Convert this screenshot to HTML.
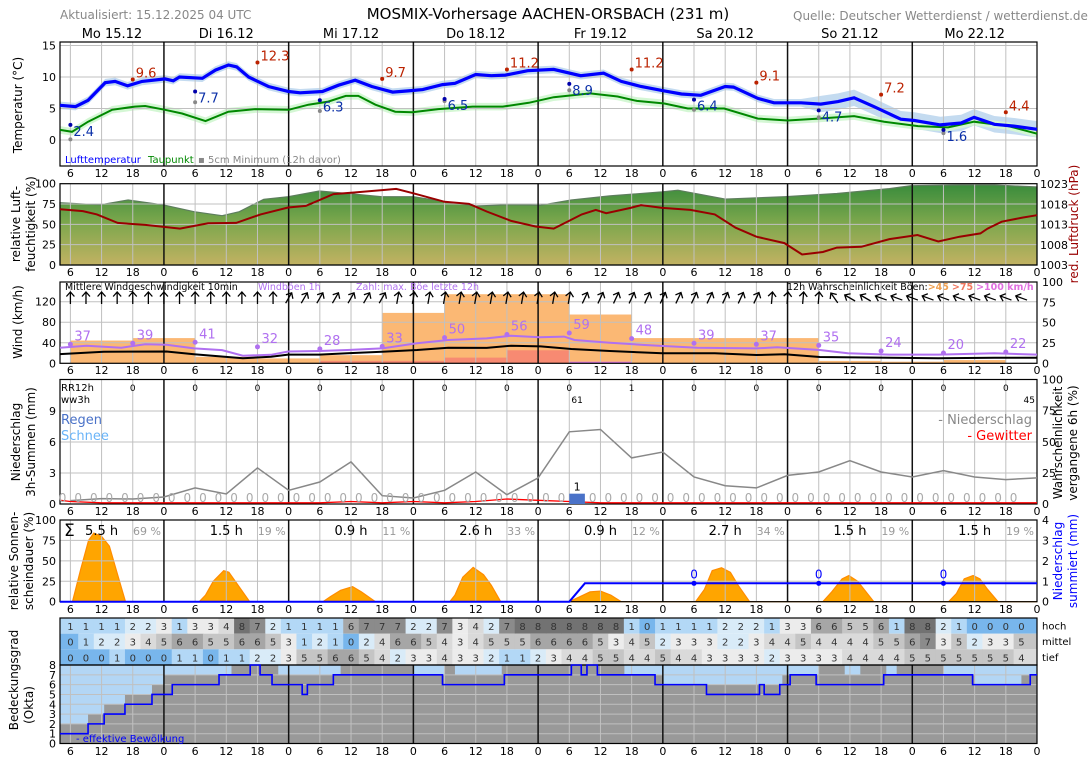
<!DOCTYPE html>
<html><head><meta charset="utf-8"><title>MOSMIX-Vorhersage AACHEN-ORSBACH</title>
<style>
html,body{margin:0;padding:0;background:#fff;}
svg{display:block;font-family:"DejaVu Sans","Liberation Sans",sans-serif;}
</style></head>
<body>
<svg id="chart" width="1088" height="763" viewBox="0 0 1088 763" xmlns="http://www.w3.org/2000/svg">
<defs>
<linearGradient id="humGrad" x1="0" y1="0" x2="0" y2="1">
<stop offset="0" stop-color="#3a8c3c"/><stop offset="0.45" stop-color="#7aa64c"/><stop offset="1" stop-color="#c2b262"/>
</linearGradient>
</defs>
<rect x="0" y="0" width="1088" height="763" fill="#fff"/>
<text x="60" y="19" font-size="12" fill="#888">Aktualisiert: 15.12.2025 04 UTC</text>
<text x="548" y="19" font-size="15" fill="#000" text-anchor="middle">MOSMIX-Vorhersage AACHEN-ORSBACH (231 m)</text>
<text x="793" y="20" font-size="12" fill="#888">Quelle: Deutscher Wetterdienst / wetterdienst.de</text>
<g id="days" font-size="13"></g>

<text transform="translate(22,105) rotate(-90)" font-size="12" text-anchor="middle">Temperatur (°C)</text>
<text transform="translate(20,224) rotate(-90)" font-size="12" text-anchor="middle">relative Luft-</text>
<text transform="translate(35,224) rotate(-90)" font-size="12" text-anchor="middle">feuchtigkeit (%)</text>
<text transform="translate(22,322) rotate(-90)" font-size="12" text-anchor="middle">Wind (km/h)</text>
<text transform="translate(20,442) rotate(-90)" font-size="12" text-anchor="middle">Niederschlag</text>
<text transform="translate(35,442) rotate(-90)" font-size="12" text-anchor="middle">3h-Summen (mm)</text>
<text transform="translate(18,561) rotate(-90)" font-size="12" text-anchor="middle">relative Sonnen-</text>
<text transform="translate(33,561) rotate(-90)" font-size="12" text-anchor="middle">scheindauer (%)</text>
<text transform="translate(18,680) rotate(-90)" font-size="12" text-anchor="middle">Bedeckungsgrad</text>
<text transform="translate(33,705) rotate(-90)" font-size="12" text-anchor="middle">(Okta)</text>
<text transform="translate(1078,224) rotate(-90)" font-size="12" fill="#990000" text-anchor="middle">red. Luftdruck (hPa)</text>
<text transform="translate(1062,443) rotate(-90)" font-size="12" text-anchor="middle">Wahrscheinlichkeit</text>
<text transform="translate(1077,443) rotate(-90)" font-size="12" text-anchor="middle">vergangene 6h (%)</text>
<text transform="translate(1062,561) rotate(-90)" font-size="12" fill="#0000ff" text-anchor="middle">Niederschlag</text>
<text transform="translate(1077,561) rotate(-90)" font-size="12" fill="#0000ff" text-anchor="middle">summiert (mm)</text>
<text x="787" y="290" font-size="9.5">12h Wahrscheinlichkeit Böen:<tspan fill="#f0a050" font-weight="bold">&gt;45</tspan><tspan fill="#f07860" font-weight="bold" dx="3">&gt;75</tspan><tspan fill="#e070e0" font-weight="bold" dx="3">&gt;100 km/h</tspan></text>
</svg>
<script>
// ---------- data ----------
const dayNames=["Mo 15.12","Di 16.12","Mi 17.12","Do 18.12","Fr 19.12","Sa 20.12","So 21.12","Mo 22.12"];
const tempHours=[4,7,9.4,12.7,14.6,17,19.8,24.2,25.8,27,31.4,33.9,36.4,38,40.3,44.1,48,50.2,54.5,57.6,60.8,64,68,71,73.8,77.6,80,84,87,89.7,94,99,104.2,108.6,112,115.8,120.3,123.6,127.3,132,133.6,138.3,141.4,146.6,150.4,153.7,156.8,160.6,165.8,168.4,173.4,177.4,179.9,183.8,187.6,192];
const tempVals=[5.5,5.3,6.3,9.1,9.3,8.6,9.3,9.7,9.4,10.0,9.8,11.1,11.9,11.6,10.0,8.5,7.7,7.5,7.7,8.7,9.5,8.5,7.6,7.8,8.0,8.8,9.0,10.4,10.2,10.3,11.0,11.2,10.2,10.6,9.3,8.5,7.8,7.3,7.1,8.5,8.4,6.6,5.9,5.9,5.7,6.1,6.7,5.3,3.3,3.1,2.4,2.7,3.6,2.5,2.2,1.7];
const dewHours=[4,6.3,9.4,14,18.4,20.4,24.2,27.5,32,36.4,41.6,48,51.8,55.6,59,61.4,64.7,68.5,71.8,76.8,83.4,89.2,94.2,99,106,111.3,115,120.3,124.8,131.8,138.3,144,149.9,156.8,162.6,169.1,174.9,179.9,186.5,192];
const dewVals=[1.6,1.3,2.9,4.8,5.3,5.4,4.8,4.2,3.0,4.5,4.9,4.8,5.6,6.1,7.0,7.0,5.6,4.5,4.4,4.9,5.3,5.3,5.9,6.8,7.4,6.9,6.2,5.8,5.0,5.0,3.4,3.1,3.4,3.8,2.9,2.2,2.0,2.9,2.2,1.0];
const maxHours=[18,42,66,90,114,138,162,186];
const maxVals=[9.6,12.3,9.7,11.2,11.2,9.1,7.2,4.4];
const minHours=[6,30,54,78,102,126,150,174];
const minVals=[2.4,7.7,6.3,6.5,8.9,6.4,4.7,1.6];
const soilMinVals=[0.1,6.0,4.6,6.2,7.9,4.8,3.6,1.1];
const humHours=[4,11.7,17.1,23.8,29.8,35.2,38.5,43.2,47.9,53.9,59.3,66,72,78,84.1,90.1,96.5,102.4,109.8,119.9,122.9,132,143.4,153.5,163.6,167.7,177.1,183.8,192];
const humVals=[76.6,74,80,74,65.6,60.7,65.6,80.8,84,91,88,84,84,78,72.6,74,73.5,80,85,90,92,81,84,88,94,97.5,98.4,98.4,96];
const presHours=[4,8.4,11.1,15.1,20.4,27.1,32.5,37.9,42.6,47.9,51.3,56.6,60.6,66,68.7,72,78,82.7,86.1,90.8,95.5,99,104.4,107.1,109.1,113.8,115.8,119.9,125.3,130,134,138,143.4,146.8,150.8,153.5,158.2,163.6,169,173,177.1,181.1,182.5,185.2,189.2,192];
const presVals=[1016.75,1016.3,1015.5,1013.4,1012.9,1012,1013.3,1013.4,1015.5,1017.2,1017.6,1020.5,1020.9,1021.5,1021.8,1020.7,1018.6,1018.1,1016.2,1013.9,1012.5,1012,1015.5,1016.6,1015.8,1017.1,1017.8,1017.1,1016.6,1015.5,1012.2,1010,1008.4,1005.6,1006.2,1007.3,1007.5,1009.4,1010.4,1008.8,1010,1010.8,1012,1013.7,1014.7,1015.3];
const windHours=[4,12.4,24.5,29.8,39.2,44.6,47.9,53.9,59.3,66,72.7,78.7,86.1,90.8,96.5,102.4,109.8,119.9,130,138,143.4,150.2,163.6,173,183.8,192];
const windVals=[18,22.6,23,17.5,9.7,12.9,17,17,19.5,22.6,26,30.4,30,34.3,33,27.9,24,19.5,19.5,16.2,17.5,12.3,11,9.7,11,11];
const gustHours=[4,9.1,15.8,20.4,24.5,29.8,35.2,39.2,44.6,47.9,53.9,59.3,66,72.7,78.7,86.1,90.8,96.3,101,103,109.8,116.5,126.6,138,142,150.2,155.6,163.6,173,183.8,192];
const gustVals=[30.4,34.3,30.4,37,36,29,25.8,14.8,16.6,23,24,26,29,39,45.4,48.6,53.8,50.7,52,45.4,40.2,35.7,30.4,29,31.2,26,19.5,17,17,19.5,17];
const gustMaxHours=[6,18,30,42,54,66,78,90,102,114,126,138,150,162,174,186];
const gustMaxVals=[37,39,41,32,28,33,50,56,59,48,39,37,35,24,20,22];
const probStartHours=[6,18,30,42,54,66,78,90,102,114,126,138,150,162,174];
const prob45=[28,31,8,6,10,62,85,85,60,31,31,31,3,2,4];
const prob75=[0,0,0,0,3,3,7,16,0,0,0,0,0,0,0];
const prob100=[0,0,0,0,0,0,0,0,2,0,0,0,0,0,0];
const arrowHours=[6,9,12,15,18,21,24,27,30,33,36,39,42,45,48,51,54,57,60,63,66,69,72,75,78,81,84,87,90,93,96,99,102,105,108,111,114,117,120,123,126,129,132,135,138,141,144,147,150,153,156,159,162,165,168,171,174,177,180,183,186,189];
const arrowAngles=[0,0,0,0,0,0,0,0,0,0,0,0,0,0,30,30,30,30,30,30,30,10,10,10,10,10,10,10,10,10,10,10,10,25,25,25,25,25,25,25,25,25,25,25,25,5,5,5,5,-35,-60,-60,-70,-70,-70,-70,-70,-70,-70,-70,-70,-70];
const precipProbHours=[6,12,18,24,30,36,42,48,54,60,66,72,78,84,90,96,102,108,114,120,126,132,138,144,150,156,162,168,174,180,186,192];
const precipProbVals=[2.7,4.3,4,5.6,12.9,8,29,11,17.7,33.8,6.7,4.8,11,25.7,7.5,21,58,59.8,37,41.8,21.7,14.7,12.9,23,25.7,34.8,25.7,21.7,26.8,21.7,19.6,21];
const thunderVals=[2,1,1,1,1,1,1,1,1,2,1,2,1,2,4,3,2,1,1,1,1,1,1,1,1,1,1,1,1,1,1,1];
const precip3hHours=[4.5,7.5,10.5,13.5,16.5,19.5,22.5,25.5,28.5,31.5,34.5,37.5,40.5,43.5,46.5,49.5,52.5,55.5,58.5,61.5,64.5,67.5,70.5,73.5,76.5,79.5,82.5,85.5,88.5,91.5,94.5,97.5,100.5,103.5,106.5,109.5,112.5,115.5,118.5,121.5,124.5,127.5,130.5,133.5,136.5,139.5,142.5,145.5,148.5,151.5,154.5,157.5,160.5,163.5,166.5,169.5,172.5,175.5,178.5,181.5,184.5,187.5];
const precip3hVals=[0,0,0,0,0,0,0,0,0,0,0,0,0,0,0,0,0,0,0,0,0,0,0,0,0,0,0,0,0,0,0,0,0,1,0,0,0,0,0,0,0,0,0,0,0,0,0,0,0,0,0,0,0,0,0,0,0,0,0,0,0,0];
const rr12Hours=[18,30,42,54,66,78,90,102,114,126,138,150,162,174,186];
const rr12Vals=[0,0,0,0,0,0,0,0,1,0,0,0,0,0,0];
const wwHours=[103.5,190.5];
const wwVals=["61","45"];
const sunHours=[4,6.4,8,9.5,10.5,12,13.5,15,16.6,30.8,32,33.5,35.5,36.5,38.5,40.5,54.6,56,58,60.3,62,64.7,79,80,81.5,83.5,85.5,87,88.8,102,104,106,108,110,112,126.3,128,129.5,131.3,133,134.5,136.7,150.8,152.5,154.5,155.8,157.5,160.6,175,176.5,178,179.7,181,182.5,184.5,192];
const sunVals=[0,0,40,75,84,80,68,35,0,0,8,25,38,36,18,0,0,6,14,18.4,12,0,0,8,30,42,33,20,0,0,6,12,13,8,0,0,15,38,41.6,36,20,0,0,12,28,32,25,0,0,10,28,32,28,15,0,0];
const sunSums=["5.5 h","1.5 h","0.9 h","2.6 h","0.9 h","2.7 h","1.5 h","1.5 h"];
const sunPct=["69 %","19 %","11 %","33 %","12 %","34 %","19 %","19 %"];
const accHours=[4,102,105,192];
const accVals=[0,0,0.9,0.9];
const accLabelHours=[126,150,174];
const accLabelVals=[0.9,0.9,0.9];
const accLabelText=["0","0","0"];
const cloudHigh=[1,1,1,1,2,2,3,1,3,3,4,8,7,2,1,1,1,1,6,7,7,7,2,2,7,3,4,2,7,8,8,8,8,8,8,8,1,0,1,1,1,1,2,2,2,1,3,3,6,6,5,5,6,1,8,8,2,1,0,0,0,0];
const cloudMid=[0,1,2,2,3,4,5,6,6,5,5,6,6,5,3,1,2,1,0,2,4,6,6,5,4,3,4,5,5,5,6,6,6,6,5,3,4,5,2,3,3,3,2,2,3,4,4,5,4,4,4,4,5,5,6,7,3,5,2,3,3,5];
const cloudLow=[0,0,0,1,0,0,0,1,1,0,1,1,2,2,3,5,5,6,6,5,4,2,3,3,4,3,3,2,1,1,2,3,4,4,5,5,4,4,5,4,4,3,3,3,3,2,3,3,3,3,4,4,4,4,5,5,5,5,5,5,5,4];
const effHours=[4,9.4,12.5,16.5,21.7,25.6,34.6,40.6,42.5,44.8,50.6,51.6,56.6,77.6,89.5,102.4,104.3,105.4,107.4,118.5,128.4,138.6,139.5,142.5,144.5,149.5,162.5,179.6,190.7];
const effVals=[1,2,3,4,5,6,7,8,7,6,5,6,7,6,7,8,7,8,7,6,5,6,5,6,7,6,7,6,7];
const totalHours=[4,9.4,12.5,16.5,21.7,24,37,46,58,72,78,80,89,112.6,120,143,150,155,158,163,165,174,180,189];
const totalVals=[2,3,4,5,6,7,8,7,8,7,8,7,8,7,6,7,8,7,8,7,8,7,6,7];

// ---------- helpers ----------
const svg=document.getElementById('chart');
const NS='http://www.w3.org/2000/svg';
function mk(tag,attrs,parent){const e=document.createElementNS(NS,tag);for(const k in attrs)e.setAttribute(k,attrs[k]);(parent||svg).appendChild(e);return e;}
function X(h){return 60+(h-4)*977/188;}
function lin(v0,v1,p0,p1){return v=>p0+(v-v0)*(p1-p0)/(v1-v0);}
const yT=lin(0,15,140,45.5), yH=lin(0,100,265,183.7), yP=lin(1003,1023,265,184);
const yW=lin(0,120,363.3,301.7), yWp=lin(0,100,363.3,282);
const yR=lin(0,9,504,411), yRp=lin(0,100,504,379.5);
const yS=lin(0,100,601.7,520), yA=lin(0,4,601.7,520), yO=lin(0,8,743.5,665);
function linePath(hs,vs,yf){return hs.map((h,i)=>(i?'L':'M')+X(h).toFixed(1)+','+yf(vs[i]).toFixed(1)).join(' ');}
function stepPath(hs,vs,yf){let d='M'+X(hs[0])+','+yf(vs[0]);for(let i=1;i<hs.length;i++){d+=' H'+X(hs[i])+' V'+yf(vs[i]);}return d+' H'+X(192);}
function txt(x,y,s,attrs){const t=mk('text',Object.assign({x:x,y:y,'font-size':11},attrs||{}));t.textContent=s;return t;}

const panels=[
 {name:'temperature',top:42,bot:166,h:[yT(15),yT(10),yT(5),yT(0)],tl:[[15,yT(15)],[10,yT(10)],[5,yT(5)],[0,yT(0)]],hy:177},
 {name:'humidity',top:183.7,bot:265,h:[yH(25),yH(50),yH(75)],tl:[[100,yH(100)],[75,yH(75)],[50,yH(50)],[25,yH(25)],[0,yH(0)]],hy:276},
 {name:'wind',top:282,bot:363.3,h:[yW(40),yW(80),yW(120)],tl:[[120,yW(120)],[80,yW(80)],[40,yW(40)],[0,yW(0)]],hy:374},
 {name:'precip',top:379.5,bot:504,h:[yR(3),yR(6),yR(9)],tl:[[9,yR(9)],[6,yR(6)],[3,yR(3)],[0,yR(0)]],hy:515},
 {name:'sun',top:520,bot:601.7,h:[yS(25),yS(50),yS(75)],tl:[[100,yS(100)],[75,yS(75)],[50,yS(50)],[25,yS(25)],[0,yS(0)]],hy:613},
 {name:'cloud',top:665,bot:743.5,h:[1,2,3,4,5,6,7].map(v=>yO(v)),tl:[8,7,6,5,4,3,2,1,0].map(v=>[v,yO(v)]),hy:755}
];

// day labels
const dayG=document.getElementById('days');
for(let d=0;d<8;d++){
  const a=Math.max(X(d*24),60), b=X(d*24+24);
  const t=txt((a+b)/2,38,dayNames[d],{'text-anchor':'middle','font-size':13});
  dayG.appendChild(t);
  
  
}

const gFill=mk('g',{});



// ---- temperature bands
let up=[],lo=[];
tempHours.forEach((h,i)=>{const s=h>150?1.3:0.6;up.push(X(h)+','+yT(tempVals[i]+s));lo.unshift(X(h)+','+yT(tempVals[i]-s));});
const tband=mk('polygon',{points:up.concat(lo).join(' '),fill:'#c4dbf0'},gFill);


up=[];lo=[];
dewHours.forEach((h,i)=>{up.push(X(h)+','+yT(dewVals[i]+0.6));lo.unshift(X(h)+','+yT(dewVals[i]-0.6));});
const dband=mk('polygon',{points:up.concat(lo).join(' '),fill:'#d4f7d4'},gFill);



// ---- humidity area
const hum=mk('path',{d:linePath(humHours,humVals,yH)+' L'+X(192)+','+yH(0)+' L'+X(4)+','+yH(0)+' Z',fill:'url(#humGrad)',stroke:'#5d7d5d','stroke-width':1.2},gFill);



// ---- wind probability blocks
probStartHours.forEach((h,i)=>{
  const r=mk('rect',{x:X(h),width:X(h+12)-X(h),y:yWp(prob45[i]),height:yWp(0)-yWp(prob45[i]),fill:'#fbb874'},gFill);
  
  
  if(prob75[i]>0){const r2=mk('rect',{x:X(h),width:X(h+12)-X(h),y:yWp(prob75[i]),height:yWp(0)-yWp(prob75[i]),fill:'#f78a72'},gFill);
  
  }
  if(prob100[i]>0){const r3=mk('rect',{x:X(h),width:X(h+12)-X(h),y:yWp(prob100[i]),height:yWp(0)-yWp(prob100[i]),fill:'#e07ae8'},gFill);
  
  }
});

// ---- sunshine
const sunPts=sunHours.map((h,i)=>X(h)+','+yS(sunVals[i]));
const sun=mk('polygon',{points:sunPts.join(' ')+' '+X(192)+','+yS(0)+' '+X(4)+','+yS(0),fill:'#ffa500',stroke:'#ff8c00','stroke-width':1.2},gFill);



// ---- cloud octa
const sky=mk('rect',{x:60,y:665,width:977,height:78.5,fill:'#b3d6f5'},gFill);


const tot=mk('path',{d:stepPath(totalHours,totalVals,yO)+' V'+yO(0)+' H'+X(4)+' Z',fill:'#999999'},gFill);



// ---- cloud table
const rowsY=[618,633.7,649.3,665];
const cloudColors=['#78b6ec','#b3d8f6','#d9ebf8','#ececec','#dadada','#c5c5c5','#a6a6a6','#8b8b8b','#727272'];
[cloudHigh,cloudMid,cloudLow].forEach((row,r)=>{
  row.forEach((v,i)=>{
    const h0=Math.max(4,4.5+3*i-(i===0?0.5:0)), h1=Math.min(192,7.5+3*i+(i===row.length-1?4.5:0));
    const c=mk('rect',{x:X(h0),y:rowsY[r],width:X(h1)-X(h0)+0.5,height:rowsY[r+1]-rowsY[r],fill:cloudColors[v]},gFill);
    
    
    const t=txt(X(6+3*i),rowsY[r]+12,String(v),{'text-anchor':'middle','font-size':10,fill:'#333'});
    
    
  });
});
['hoch','mittel','tief'].forEach((s,r)=>{const t=txt(1042,rowsY[r]+11.5,s,{'font-size':10});
  
  });

// ---------- grids ----------
panels.forEach(p=>{
  const g=mk('g',{});
  
  
  p.h.forEach(y=>{mk('line',{x1:60,x2:1037,y1:y,y2:y,stroke:'#c0c0c0','stroke-width':1},g);});
  for(let h=6;h<=186;h+=6){
    const mid=h%24===0;
    mk('line',{x1:X(h),x2:X(h),y1:p.top,y2:p.bot,stroke:mid?'#111':'#c0c0c0','stroke-width':mid?1.5:1},g);
  }
  const fr=mk('rect',{x:60,y:p.top,width:977,height:p.bot-p.top,fill:'none',stroke:'#000','stroke-width':1.2});
  
  
  p.tl.forEach(([v,y])=>{const t=txt(56,y+4,String(v),{'text-anchor':'end'});
    
    });
  for(let h=6;h<=192;h+=6){const t=txt(X(h),p.hy,String(h%24),{'text-anchor':'middle'});
    
    }
});
const tf=mk('rect',{x:60,y:618,width:977,height:47,fill:'none',stroke:'#000','stroke-width':1.2});



// right axis ticks
[1023,1018,1013,1008,1003].forEach(v=>{const t=txt(1040,yP(v)+4,String(v));});
[100,75,50,25,0].forEach(v=>{const t=txt(1042,yWp(v)+4,String(v));});
[100,75,50,25,0].forEach(v=>{const t=txt(1042,yRp(v)+4,String(v));});
[4,3,2,1,0].forEach(v=>{const t=txt(1042,yA(v)+4,String(v));});

// ---------- lines ----------
const tLine=mk('path',{d:linePath(dewHours,dewVals,yT),fill:'none',stroke:'#008800','stroke-width':2});


const tmp=mk('path',{d:linePath(tempHours,tempVals,yT),fill:'none',stroke:'#0000ff','stroke-width':3.2});


maxHours.forEach((h,i)=>{
  const c=mk('circle',{cx:X(h),cy:yT(maxVals[i]),r:2,fill:'#bb2200'});
  
  
  const t=txt(X(h)+3,yT(maxVals[i])-2,maxVals[i].toFixed(1),{'font-size':13,fill:'#bb2200'});
  
  
});
minHours.forEach((h,i)=>{
  const s=mk('circle',{cx:X(h),cy:yT(soilMinVals[i]),r:2,fill:'#888'});
  
  
  const c=mk('circle',{cx:X(h),cy:yT(minVals[i]),r:2,fill:'#0000aa'});
  
  
  const t=txt(X(h)+3,yT(minVals[i])+11,minVals[i].toFixed(1),{'font-size':13,fill:'#0a2fa8'});
  
  
});
const lg1=txt(65,163,'Lufttemperatur',{'font-size':10,fill:'#0000ff'});


const lg2=txt(148,163,'Taupunkt',{'font-size':10,fill:'#008800'});


const lg3=txt(198,163,'▪ 5cm Minimum (12h davor)',{'font-size':10,fill:'#888'});



const pres=mk('path',{d:linePath(presHours,presVals,yP),fill:'none',stroke:'#990000','stroke-width':2});



const gust=mk('path',{d:linePath(gustHours,gustVals,yW),fill:'none',stroke:'#b070f0','stroke-width':2});


const wind=mk('path',{d:linePath(windHours,windVals,yW),fill:'none',stroke:'#000','stroke-width':2});


gustMaxHours.forEach((h,i)=>{
  const c=mk('circle',{cx:X(h),cy:yW(gustMaxVals[i]),r:2.5,fill:'#b070f0'});
  
  
  const t=txt(X(h)+4,yW(gustMaxVals[i])-4,String(gustMaxVals[i]),{'font-size':13,fill:'#b070f0'});
  
  
});
arrowHours.forEach((h,i)=>{
  const g=mk('g',{transform:'translate('+X(h)+',298) rotate('+arrowAngles[i]+')',stroke:'#000','stroke-width':1.3,fill:'none'});
  
  
  mk('line',{x1:0,y1:6,x2:0,y2:-6},g);
  mk('polyline',{points:'-4,-1.5 0,-6 4,-1.5'},g);
});
const wt1=txt(65,290,'Mittlere Windgeschwindigkeit 10min',{'font-size':9.5});


const wt2=txt(258,290,'Windböen 1h',{'font-size':9.5,fill:'#b070f0'});


const wt3=txt(356,290,'Zahl: max. Böe letzte 12h',{'font-size':9.5,fill:'#b070f0'});



// precip panel
const pp=mk('path',{d:linePath(precipProbHours,precipProbVals,yRp),fill:'none',stroke:'#888','stroke-width':1.5});


const th=mk('path',{d:'M'+X(4)+','+yRp(3)+' '+linePath(precipProbHours,thunderVals,yRp).replace('M','L'),fill:'none',stroke:'#ff0000','stroke-width':1.3});


precip3hHours.forEach((h,i)=>{
  const v=precip3hVals[i];
  if(v>0){
    const b=mk('rect',{x:X(h-1.5),y:yR(v),width:X(h+1.5)-X(h-1.5),height:yR(0)-yR(v),fill:'#4a72c8'});
    
    
    const t=txt(X(h),yR(v)-3,String(v),{'text-anchor':'middle','font-size':11});
    
    
  } else {
    const t=txt(X(h),502,'0',{'text-anchor':'middle','font-size':12,fill:'#aaa'});
    
    
  }
});
rr12Hours.forEach((h,i)=>{const t=txt(X(h),391,String(rr12Vals[i]),{'text-anchor':'middle','font-size':9});
  
  });
wwHours.forEach((h,i)=>{const t=txt(X(h),403,wwVals[i],{'text-anchor':'middle','font-size':9});
  
  });
const pl1=txt(61,391,'RR12h',{'font-size':10});
const pl2=txt(61,403,'ww3h',{'font-size':10});
const pl3=txt(61,424,'Regen',{'font-size':13,fill:'#4a72c8'});
const pl4=txt(61,440,'Schnee',{'font-size':13,fill:'#6ab4f8'});
const pl5=txt(1032,424,'- Niederschlag',{'font-size':13,fill:'#888','text-anchor':'end'});
const pl6=txt(1032,440,'- Gewitter',{'font-size':13,fill:'#ff0000','text-anchor':'end'});

// sunshine texts + accumulated precip
const sig=txt(64,536,'Σ',{'font-size':17});


sunSums.forEach((s,d)=>{
  const t=txt(X(d*24+12),535,s,{'text-anchor':'middle','font-size':13});
  
  
  const p=txt(X(d*24+24)-3,535,sunPct[d],{'text-anchor':'end','font-size':11,fill:'#999'});
  
  
});
const acc=mk('path',{d:linePath(accHours,accVals,yA),fill:'none',stroke:'#0000ff','stroke-width':2});


accLabelHours.forEach((h,i)=>{
  const c=mk('circle',{cx:X(h),cy:yA(accLabelVals[i]),r:2.5,fill:'#0000ff'});
  
  
  const t=txt(X(h),yA(accLabelVals[i])-5,accLabelText[i],{'text-anchor':'middle','font-size':12,fill:'#0000ff'});
  
  
});

// effective cloud
const eff=mk('path',{d:stepPath(effHours,effVals,yO),fill:'none',stroke:'#0000ff','stroke-width':1.6});


const el=txt(76,742,'- effektive Bewölkung',{'font-size':10,fill:'#0000ff'});


</script>
</body></html>
